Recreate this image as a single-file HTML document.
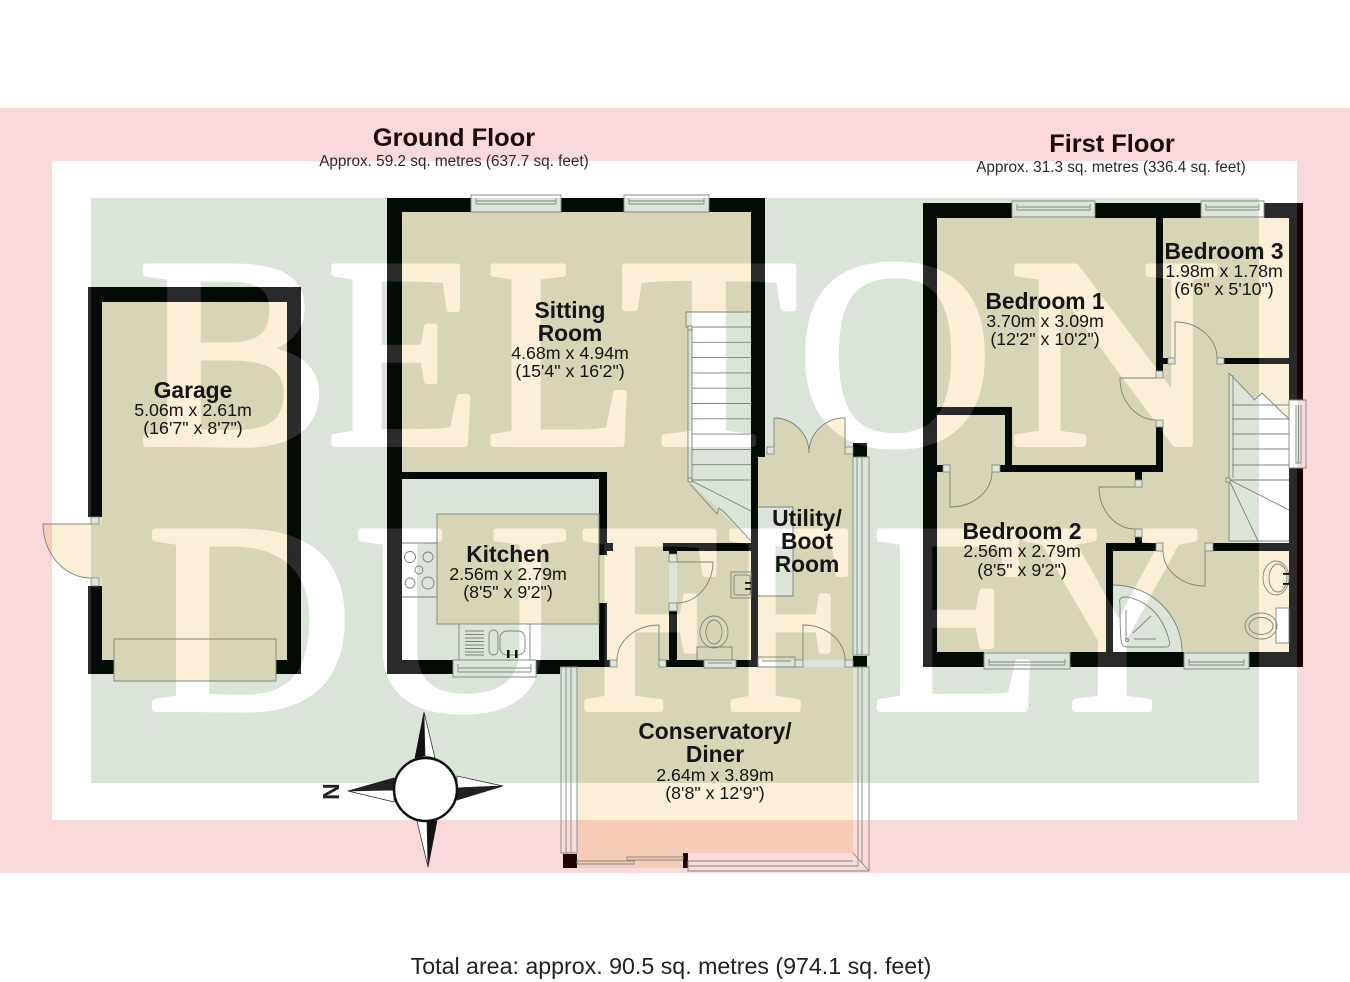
<!DOCTYPE html>
<html><head><meta charset="utf-8"><style>
html,body{margin:0;padding:0;background:#fff}
svg{display:block}
text{font-family:"Liberation Sans",Arial,sans-serif;fill:#141414;text-anchor:middle}
.n{font-weight:700;font-size:22.8px}
.d{font-size:17.8px}
.s{font-size:15.3px;fill:#2a2a2a}
.t{font-weight:700;font-size:25.4px;fill:#1c0c0c}
.l{fill:none;stroke:#7d8578;stroke-width:.9}
.p{fill:#dfe6d8;stroke:#7d8578;stroke-width:.8}
.w{fill:none;stroke:#7f8c80;stroke-width:.9}
.wm text{font-family:"Liberation Serif",serif;font-weight:400;font-size:271px;text-anchor:start;stroke-width:6px;stroke-linejoin:round}
.wa text{fill:#fff;stroke:#fff}
.wb text{fill:#2a2a2a;stroke:#2a2a2a}
</style></head><body>
<svg xmlns="http://www.w3.org/2000/svg" width="1350" height="982" viewBox="0 0 1350 982">
<rect width="1350" height="982" fill="#fff"/>
<path fill-rule="evenodd" fill="#f9d9da" d="M0 108H1350V873H0ZM52 161V820H1297V161Z"/>
<rect x="91" y="198" width="1168" height="585" fill="#dbe4d8"/>
<g class="wm wa">
<text x="138" y="444" textLength="192" lengthAdjust="spacingAndGlyphs">B</text>
<text x="327" y="444" textLength="153" lengthAdjust="spacingAndGlyphs">E</text>
<text x="486" y="444" textLength="153" lengthAdjust="spacingAndGlyphs">L</text>
<text x="620" y="444" textLength="178" lengthAdjust="spacingAndGlyphs">T</text>
<text x="797" y="444" textLength="196" lengthAdjust="spacingAndGlyphs">O</text>
<text x="1009" y="444" textLength="212" lengthAdjust="spacingAndGlyphs">N</text>
<text x="147" y="709" textLength="206" lengthAdjust="spacingAndGlyphs">D</text>
<text x="355" y="709" textLength="214" lengthAdjust="spacingAndGlyphs">U</text>
<text x="578" y="709" textLength="145" lengthAdjust="spacingAndGlyphs">F</text>
<text x="725" y="709" textLength="129" lengthAdjust="spacingAndGlyphs">F</text>
<text x="872" y="709" textLength="169" lengthAdjust="spacingAndGlyphs">E</text>
<text x="1023" y="709" textLength="178" lengthAdjust="spacingAndGlyphs">Y</text>
</g>

<!-- room fills -->
<g style="mix-blend-mode:multiply" fill="#fcefd8">
<path d="M91 524H43A48 54 0 0 0 91 578H102V660H287V302H102V524Z"/>
<rect x="114" y="660" width="162" height="21"/>
<path d="M402 212H751V312H686V327H688V480L751 541V543H669V667H607V472H402Z"/>
<rect x="677" y="551" width="74" height="109"/>
<rect x="437" y="514" width="162" height="110"/>
<rect x="599" y="555" width="8" height="48"/>
<path d="M765 454H774V418A35 35 0 0 1 809 453A35 35 0 0 1 845 418V454H853V660H758V596H793V507H758V457H765Z"/>
<path d="M577 667H853V853H688V868H577Z"/>
<path fill-rule="evenodd" d="M937 218H1289V652H937ZM1229 373L1253 398L1262 393L1289 419V543H1229ZM1113 585A69 67 0 0 1 1182 652H1113ZM1276 608H1289V643H1276Z"/>
</g>

<!-- walls -->
<g fill="#040a04">
<rect x="88" y="287" width="213" height="15"/>
<rect x="88" y="302" width="14" height="215"/>
<rect x="88" y="586" width="14" height="88"/>
<rect x="287" y="302" width="14" height="372"/>
<rect x="102" y="660" width="12" height="14"/>
<rect x="276" y="660" width="11" height="14"/>

<rect x="387" y="198" width="84" height="14"/>
<rect x="561" y="198" width="63" height="14"/>
<rect x="709" y="198" width="56" height="14"/>
<rect x="387" y="212" width="15" height="462"/>
<rect x="751" y="212" width="14" height="245"/>
<rect x="751" y="457" width="7" height="210"/>
<rect x="402" y="660" width="51" height="14"/>
<rect x="536" y="660" width="24" height="14"/>
<rect x="560" y="660" width="50" height="7"/>
<rect x="402" y="472" width="205" height="7"/>
<rect x="599" y="479" width="8" height="76"/>
<rect x="607" y="543" width="6" height="8"/>
<rect x="599" y="603" width="8" height="57"/>
<rect x="663" y="543" width="88" height="8"/>
<rect x="669" y="551" width="8" height="3"/>
<rect x="669" y="611" width="8" height="49"/>
<rect x="666" y="660" width="38" height="7"/>
<rect x="736" y="660" width="22" height="7"/>
<rect x="853" y="443" width="14" height="14"/>
<rect x="853" y="656" width="14" height="11"/>

<rect x="923" y="203" width="89" height="15"/>
<rect x="1095" y="203" width="106" height="15"/>
<rect x="1264" y="203" width="39" height="15"/>
<rect x="923" y="218" width="14" height="449"/>
<rect x="1289" y="218" width="14" height="182"/>
<rect x="1289" y="468" width="14" height="199"/>
<rect x="937" y="652" width="47" height="15"/>
<rect x="1070" y="652" width="114" height="15"/>
<rect x="1249" y="652" width="40" height="15"/>
<rect x="1156" y="218" width="7" height="153"/>
<rect x="1163" y="358" width="5" height="6"/>
<rect x="1224" y="358" width="65" height="6"/>
<rect x="1156" y="427" width="7" height="45"/>
<rect x="1000" y="465" width="156" height="7"/>
<rect x="1005" y="407" width="7" height="58"/>
<rect x="937" y="407" width="68" height="8"/>
<rect x="937" y="465" width="6" height="7"/>
<rect x="1135" y="472" width="7" height="8"/>
<rect x="1135" y="537" width="7" height="6"/>
<rect x="1106" y="543" width="50" height="8"/>
<rect x="1213" y="543" width="76" height="8"/>
<rect x="1106" y="551" width="7" height="101"/>
</g>
<!-- lighter wall tone over white zones / letters -->
<g class="wm wb" style="mix-blend-mode:lighten" fill="#2a2a2a">
<path fill-rule="evenodd" d="M52 161H1297V820H52ZM91 198V783H1259V198Z"/>
<text x="138" y="444" textLength="192" lengthAdjust="spacingAndGlyphs">B</text>
<text x="327" y="444" textLength="153" lengthAdjust="spacingAndGlyphs">E</text>
<text x="486" y="444" textLength="153" lengthAdjust="spacingAndGlyphs">L</text>
<text x="620" y="444" textLength="178" lengthAdjust="spacingAndGlyphs">T</text>
<text x="797" y="444" textLength="196" lengthAdjust="spacingAndGlyphs">O</text>
<text x="1009" y="444" textLength="212" lengthAdjust="spacingAndGlyphs">N</text>
<text x="147" y="709" textLength="206" lengthAdjust="spacingAndGlyphs">D</text>
<text x="355" y="709" textLength="214" lengthAdjust="spacingAndGlyphs">U</text>
<text x="578" y="709" textLength="145" lengthAdjust="spacingAndGlyphs">F</text>
<text x="725" y="709" textLength="129" lengthAdjust="spacingAndGlyphs">F</text>
<text x="872" y="709" textLength="169" lengthAdjust="spacingAndGlyphs">E</text>
<text x="1023" y="709" textLength="178" lengthAdjust="spacingAndGlyphs">Y</text>
</g>
<rect x="1297" y="218" width="6" height="182" fill="#1e0206"/>
<rect x="1297" y="468" width="6" height="199" fill="#1e0206"/>
<rect x="1297" y="203" width="6" height="15" fill="#1e0206"/>
<rect x="563" y="854" width="14" height="14" fill="#1e0206"/>
<rect x="683" y="853" width="5" height="15" fill="#1e0206"/>

<!-- door posts -->
<g class="p">
<rect x="91" y="517" width="8" height="7"/><rect x="91" y="578" width="8" height="8"/>
<rect x="610" y="660" width="7" height="7"/><rect x="659" y="660" width="7" height="7"/>
<rect x="669" y="554" width="8" height="8"/><rect x="669" y="603" width="8" height="8"/>
<rect x="795" y="660" width="8" height="7"/><rect x="845" y="660" width="8" height="7"/>
<rect x="767" y="447" width="7" height="7"/><rect x="845" y="447" width="8" height="7"/>
<rect x="1156" y="371" width="7" height="7"/><rect x="1156" y="420" width="7" height="7"/>
<rect x="1168" y="358" width="7" height="6"/><rect x="1217" y="358" width="7" height="6"/>
<rect x="943" y="465" width="7" height="7"/><rect x="992" y="465" width="8" height="7"/>
<rect x="1135" y="480" width="7" height="7"/><rect x="1135" y="529" width="7" height="8"/>
<rect x="1156" y="543" width="7" height="8"/><rect x="1205" y="543" width="8" height="8"/>
</g>

<!-- doors -->
<g class="l">
<path d="M91 524H43A48 54 0 0 0 91 578"/>
<path d="M677 562H713A36 42 0 0 1 677 603"/>
<path d="M659 660V625A42 35 0 0 0 617 660"/>
<path d="M803 660V625A42 35 0 0 1 845 660"/>
<path d="M774 447V418A35 35 0 0 1 809 453A35 35 0 0 1 845 418V447"/>
<path d="M1175 358V322A42 36 0 0 1 1217 358"/>
<path d="M1156 378H1120A36 42 0 0 0 1156 420"/>
<path d="M950 472V507A42 35 0 0 0 992 472"/>
<path d="M1135 487H1099A36 42 0 0 0 1135 529"/>
<path d="M1205 551V586A42 35 0 0 1 1163 551"/>
</g>

<!-- stairs -->
<g class="l">
<path d="M751 312H686V327H751M688 327V480M692 327V480M751 342.3H692M751 357.6H692M751 372.9H692M751 388.2H692M751 403.5H692M751 418.8H692M751 434.1H692M751 449.4H692M751 464.7H692M751 480H688"/>
<path d="M690 480L751 511M690 484L717 514L719 508L725 513L751 541"/>
<rect x="688" y="326" width="4" height="4" fill="#dfe6d8"/>
<rect x="688" y="478" width="4" height="4" fill="#dfe6d8"/>
<path d="M1229 373V541H1289M1229 373L1253 398L1254 400L1262 393L1289 419M1232 405H1289M1232 419H1289M1232 434H1289M1232 449H1289M1232 465H1289M1230 480H1289"/>
<path d="M1233 375V478"/>
<path d="M1230 480L1289 510M1230 482L1258 541"/>
<rect x="1226" y="478" width="4" height="4" fill="#dfe6d8"/>
</g>

<!-- kitchen / utility fixtures -->
<g class="l">
<rect x="437" y="514" width="162" height="110"/>
<path d="M402 543H437M402 597H437"/>
<circle cx="410" cy="557" r="5.5"/><circle cx="428" cy="557" r="5"/><circle cx="419" cy="570" r="4"/><circle cx="410" cy="583" r="5"/><circle cx="428" cy="583" r="6"/>
<path d="M459 624V660M530 624V660"/>
<path d="M465 631H484M465 634.5H484M465 638H484M465 641.5H484M465 645H484M465 648.5H484M465 652H484M465 655H484"/>
<rect x="489" y="630" width="9" height="25" rx="4.5"/>
<rect x="500" y="631" width="25" height="24" rx="7"/>
<path d="M758 507H793V596H758"/>
<rect x="731" y="572" width="20" height="26"/>
<rect x="734" y="575" width="16" height="20" rx="2"/>
<ellipse cx="714" cy="632" rx="14" ry="16"/><ellipse cx="714" cy="632" rx="8" ry="12"/>
<rect x="697" y="647" width="35" height="13"/>
<path d="M114 660V639H276V681H114Z"/>
<path d="M1113 585A69 67 0 0 1 1182 652"/>
<path d="M1125 597Q1118 597 1120 604Q1120 640 1122 644Q1123 647 1128 647H1166Q1171 647 1169 640Q1160 605 1128 597Z"/>
<path d="M1126 610V640M1133 633L1151 616M1134 639H1156"/>
<circle cx="1127" cy="640" r="1.5"/>
<ellipse cx="1276" cy="578" rx="13" ry="17"/><ellipse cx="1278" cy="578" rx="9" ry="14"/>
<rect x="1276" y="608" width="13" height="35"/>
<ellipse cx="1261" cy="626" rx="16" ry="13"/><ellipse cx="1261" cy="626" rx="12" ry="8.5"/>
</g>
<g fill="#111">
<rect x="507" y="650" width="2.5" height="8"/><rect x="515" y="650" width="2.5" height="8"/>
<rect x="745" y="582" width="6" height="1.8"/><rect x="745" y="588" width="6" height="1.8"/>
<rect x="1283" y="573" width="6" height="1.8"/><rect x="1283" y="583" width="6" height="1.8"/>
</g>

<!-- windows -->
<g class="w">
<path d="M471 195H561V212H471ZM476 198V204H556V198M476 201H556"/>
<path d="M624 195H709V212H624ZM629 198V204H704V198M629 201H704"/>
<path d="M453 660H536V677H453ZM458 664V672H531V664M458 668H531"/>
<path d="M704 660H736V668H704ZM708 663H732"/>
<path d="M758 657H795V667H758ZM762 661H791"/>
<path d="M853 457H869V655H853ZM857 457V655M862 457V655"/>
<path d="M1012 201H1095V217H1012ZM1017 204V210H1090V204M1017 207H1090"/>
<path d="M1201 201H1264V217H1201ZM1206 204V210H1259V204M1206 207H1259"/>
<path d="M984 653H1070V669H984ZM989 659V665H1065V659M989 662H1065"/>
<path d="M1184 653H1249V669H1184ZM1189 659V665H1244V659M1189 662H1244"/>
<path d="M1289 400H1306V468H1289ZM1296 405V463H1301V405M1298.5 405V463"/>
<path d="M561 667H577V853H561ZM566 667V853M571 667V853"/>
<path d="M853 667H869V871H688V861H853M858 667V866H688M862 667V863M853 853L869 871"/>
<path d="M577 861H634V864H577ZM627 857H683V860H627ZM627 857V861"/>
</g>

<!-- compass -->
<g stroke="#222" stroke-width=".7">
<polygon points="424,712 415,758 425,756" fill="#111"/>
<polygon points="424,712 435,758 425,756" fill="#fff"/>
<polygon points="503,786 457,776 457,788" fill="#fff"/>
<polygon points="503,786 457,800 457,788" fill="#222"/>
<polygon points="428,867 437,821 427,821" fill="#111"/>
<polygon points="428,867 417,821 427,821" fill="#fff"/>
<polygon points="348,791 394,778 394,790" fill="#222"/>
<polygon points="348,791 394,802 394,790" fill="#fff"/>
</g>
<circle cx="425.500" cy="789.500" r="31.500" fill="#fff" stroke="#111" stroke-width="2.5"/>
<text x="0" y="0" transform="translate(339 791.500) rotate(-90)" style="font-weight:700;font-size:23px;fill:#222">N</text>

<!-- labels -->
<text class="t" x="454" y="146">Ground Floor</text>
<text class="s" x="454" y="166">Approx. 59.2 sq. metres (637.7 sq. feet)</text>
<text class="t" x="1112" y="152">First Floor</text>
<text class="s" x="1111" y="172">Approx. 31.3 sq. metres (336.4 sq. feet)</text>

<text class="n" x="193" y="398">Garage</text>
<text class="d" x="193" y="416">5.06m x 2.61m</text>
<text class="d" x="193" y="434">(16'7" x 8'7")</text>

<text class="n" x="570" y="318">Sitting</text>
<text class="n" x="570" y="341">Room</text>
<text class="d" x="570" y="359">4.68m x 4.94m</text>
<text class="d" x="570" y="377">(15'4" x 16'2")</text>

<text class="n" x="508" y="562">Kitchen</text>
<text class="d" x="508" y="580">2.56m x 2.79m</text>
<text class="d" x="508" y="598">(8'5" x 9'2")</text>

<text class="n" x="807" y="526">Utility/</text>
<text class="n" x="807" y="549">Boot</text>
<text class="n" x="807" y="572">Room</text>

<text class="n" x="715" y="739">Conservatory/</text>
<text class="n" x="715" y="762">Diner</text>
<text class="d" x="715" y="781">2.64m x 3.89m</text>
<text class="d" x="715" y="799">(8'8" x 12'9")</text>

<text class="n" x="1045" y="309">Bedroom 1</text>
<text class="d" x="1045" y="327">3.70m x 3.09m</text>
<text class="d" x="1045" y="345">(12'2" x 10'2")</text>

<text class="n" x="1224" y="259">Bedroom 3</text>
<text class="d" x="1224" y="277">1.98m x 1.78m</text>
<text class="d" x="1224" y="295">(6'6" x 5'10")</text>

<text class="n" x="1022" y="539">Bedroom 2</text>
<text class="d" x="1022" y="557">2.56m x 2.79m</text>
<text class="d" x="1022" y="576">(8'5" x 9'2")</text>

<text x="671" y="974" style="font-size:23.200px;fill:#222">Total area: approx. 90.5 sq. metres (974.1 sq. feet)</text>
</svg>
</body></html>
